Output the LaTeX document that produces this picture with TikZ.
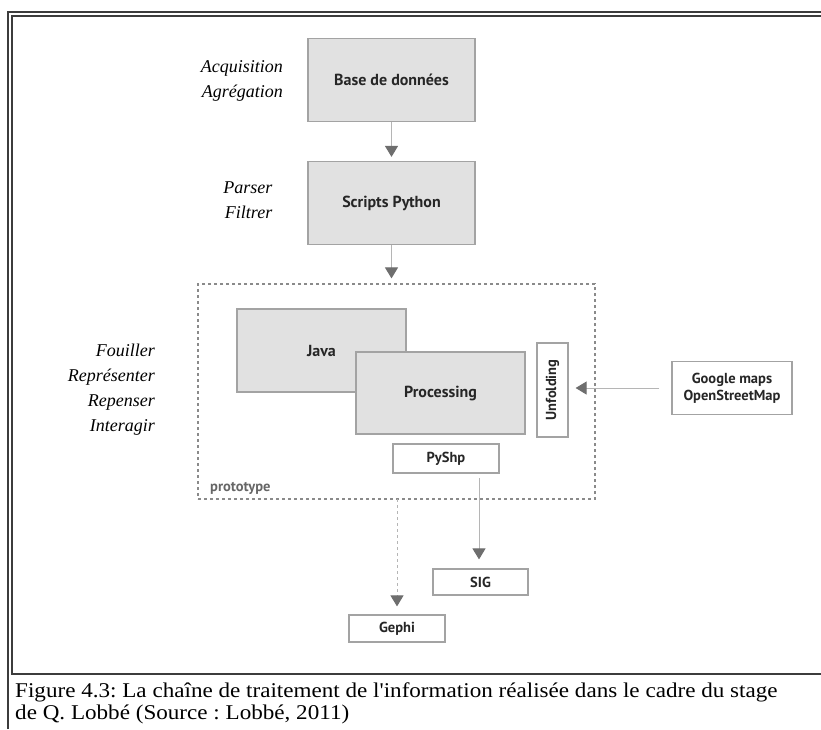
\documentclass[tikz,border=0pt]{standalone}
\usepackage{fontspec}
\usepackage{tikz}
\usepackage{xcolor}
\usetikzlibrary{arrows.meta}
\usetikzlibrary{positioning}
\newfontfamily\boxfont{PT Sans}
\newfontfamily\capfont{Liberation Serif}
\definecolor{boxfill}{HTML}{E1E1E1}
\definecolor{boxline}{HTML}{A3A3A3}
\definecolor{linkgray}{HTML}{B5B5B5}
\definecolor{tipgray}{HTML}{6E6E6E}
\definecolor{framegray}{HTML}{3C3C3C}
\definecolor{protogray}{HTML}{8A8A8A}
\tikzstyle{stage} = [rectangle, minimum width=167pt, minimum height=83pt, text centered, draw=boxline, fill=boxfill, line width=1.2pt, font=\boxfont\bfseries\fontsize{16}{19}\selectfont, text=black!85]
\tikzstyle{lib} = [rectangle, inner sep=0pt, text centered, draw=boxline, fill=white, line width=1.2pt, font=\boxfont\bfseries\fontsize{14.5}{17}\selectfont, text=black!85]
\tikzstyle{verbs} = [align=right, anchor=east, inner sep=0pt, font=\capfont\itshape\fontsize{18}{25}\selectfont]
\tikzstyle{arrow} = [draw=linkgray, line width=1pt, -{Triangle[width=13pt,length=11pt,color=tipgray]}]

\begin{document}
\frenchspacing
\begin{tikzpicture}[x=1pt, y=-1pt, node distance=123pt]
    \useasboundingbox (0,0) rectangle (821,729);
    % page frame
    \draw [framegray, line width=1.2pt] (8,729) -- (8,12) -- (821,12);
    \draw [framegray, line width=1.2pt] (821,16) -- (12,16) -- (12,674) -- (821,674);
    \node (caption) [anchor=north west, align=left, inner sep=0pt, transform shape, xscale=1.1, font=\capfont\fontsize{21}{22}\selectfont] at (15,682) {Figure 4.3: La chaîne de traitement de l'information réalisée dans le cadre du stage\\de Q. Lobbé (Source : Lobbé, 2011)};

        \node (base) [stage] at (391.5,80) {Base de données};
        \node (scripts) [stage, below of=base] {Scripts Python};
        \node (proto) [rectangle, draw=protogray, line width=1.2pt, dash pattern=on 3pt off 3pt, minimum width=397pt, minimum height=215pt] at (396.5,391.5) {};
        \node (protolabel) [anchor=base west, inner sep=0pt, text=black!60, font=\boxfont\bfseries\fontsize{14.5}{17}\selectfont] at (210,491) {prototype};
        \node (java) [stage, minimum width=169pt] at (321.5,350.5) {Java};
        \node (processing) [stage, minimum width=169pt, minimum height=82pt] at (440.5,393) {Processing};
        \node (unfolding) [lib, rotate=90, minimum width=94pt, minimum height=31pt] at (552.5,390) {Unfolding};
        \node (pyshp) [lib, minimum width=106pt, minimum height=29pt] at (446,458.5) {PyShp};
        \node (google) [lib, minimum width=120pt, minimum height=53pt, align=center] at (732,388) {Google maps\\OpenStreetMap};
        \node (sig) [lib, minimum width=95pt, minimum height=26pt] at (480.5,582) {SIG};
        \node (gephi) [lib, minimum width=96pt, minimum height=27pt] at (397,628.5) {Gephi};

        \node (acq) [verbs] at (283,80.5) {Acquisition\\Agrégation};
        \node (parse) [verbs] at (272.5,200.5) {Parser\\Filtrer};
        \node (explore) [verbs] at (155,390) {Fouiller\\Représenter\\Repenser\\Interagir};

        \coordinate (pyout) at (479,473);
        \coordinate (protoout) at (397,499);

        \draw [arrow, shorten >=4pt] (base) -- (scripts);
        \draw [arrow, shorten >=5pt] (scripts.south) -- (scripts.south |- proto.north);
        \draw [arrow, shorten <=12pt, shorten >=7pt] (google.west) -- (google.west -| unfolding.south);
        \draw [arrow, shorten <=5pt, shorten >=9pt] (pyout) -- (pyout |- sig.north);
        \draw [arrow, dashed, shorten >=8pt] (protoout) -- (gephi);
    \end{tikzpicture}
\end{document}
